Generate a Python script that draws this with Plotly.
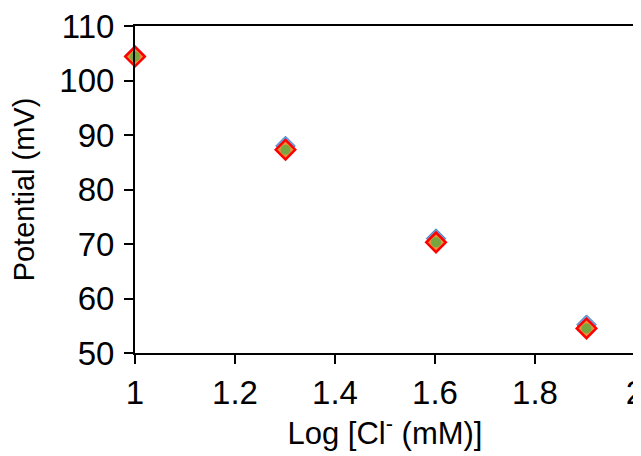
import plotly.graph_objects as go

log_cl = [1.0, 1.301, 1.602, 1.903]
potential_blue = [104.6, 88.0, 71.0, 55.2]
potential_red = [104.4, 87.3, 70.3, 54.5]
potential_green = [104.4, 87.3, 70.3, 54.5]

x_ticks = [1, 1.2, 1.4, 1.6, 1.8, 2]
y_ticks = [50, 60, 70, 80, 90, 100, 110]

fig = go.Figure()
fig.add_trace(go.Scatter(x=log_cl, y=potential_blue, mode="markers",
                         marker=dict(symbol="diamond", size=15, color="#6f9fe0",
                                     line=dict(color="#4a7ebb", width=1)),
                         showlegend=False, cliponaxis=False))
fig.add_trace(go.Scatter(x=log_cl, y=potential_red, mode="markers",
                         marker=dict(symbol="diamond", size=15, color="#e8913a",
                                     line=dict(color="#ff0000", width=2.5)),
                         showlegend=False, cliponaxis=False))
fig.add_trace(go.Scatter(x=log_cl, y=potential_green, mode="markers",
                         marker=dict(symbol="circle", size=10, color="#77a640",
                                     line=dict(width=0)),
                         showlegend=False, cliponaxis=False))

font_family = "Liberation Sans, Arial, sans-serif"
fig.update_layout(
    width=641, height=456,
    margin=dict(l=127, r=14, t=18, b=111),
    plot_bgcolor="white", paper_bgcolor="white",
    font=dict(family=font_family, color="black"),
    xaxis=dict(range=[1, 2], tickvals=x_ticks, ticktext=[str(v) for v in x_ticks],
               ticks="outside", ticklen=9, tickwidth=2, tickcolor="black",
               showline=True, linewidth=2, linecolor="black", mirror=True,
               showgrid=False, zeroline=False, automargin=False,
               tickfont=dict(size=33), ticklabelstandoff=0,
               ticklabeloverflow="allow",
               title=dict(text="Log [Cl<sup>-</sup> (mM)]", font=dict(size=31), standoff=13)),
    yaxis=dict(range=[50, 110], tickvals=y_ticks,
               ticks="outside", ticklen=9, tickwidth=2, tickcolor="black",
               showline=True, linewidth=2, linecolor="black", mirror=True,
               showgrid=False, zeroline=False, automargin=False,
               tickfont=dict(size=33), ticklabelstandoff=3,
               ticklabeloverflow="allow",
               title=dict(text="Potential (mV)", font=dict(size=29), standoff=20)),
)
fig.write_html("out.html")
